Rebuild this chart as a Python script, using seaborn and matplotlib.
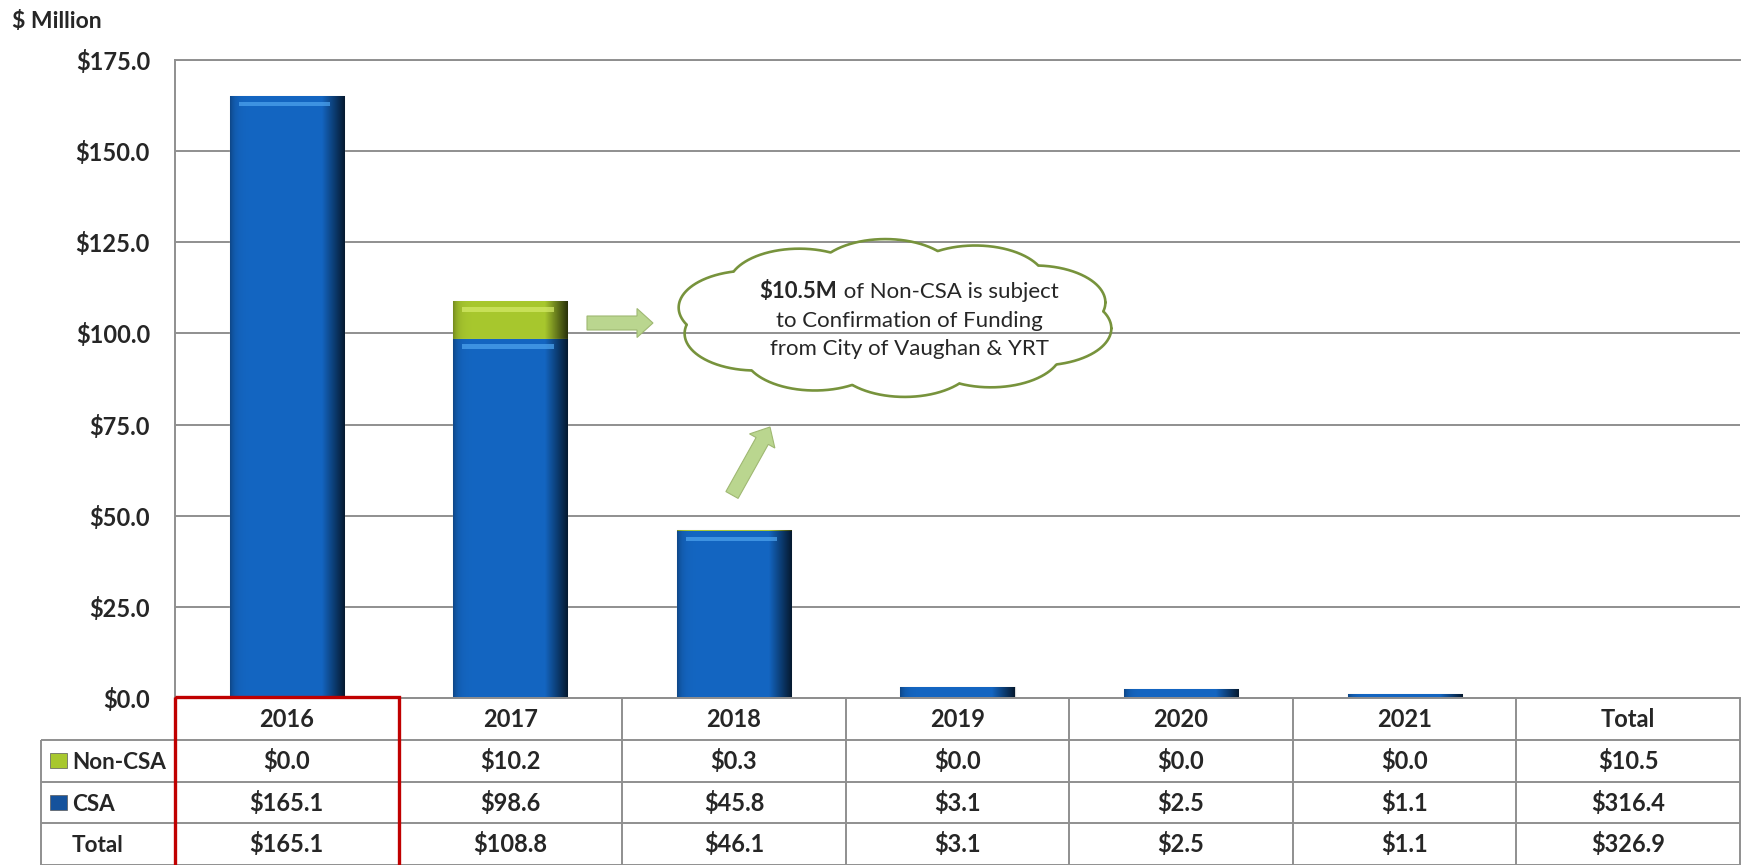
import numpy as np
import pandas as pd
import matplotlib
matplotlib.use("Agg")
import matplotlib.pyplot as plt
import seaborn as sns
from matplotlib.colors import to_rgb
from matplotlib.patches import Rectangle, FancyArrow

# values ($ million)
years = ["2016", "2017", "2018", "2019", "2020", "2021"]
csa = [165.1, 98.6, 45.8, 3.1, 2.5, 1.1]
non_csa = [0.0, 10.2, 0.3, 0.0, 0.0, 0.0]
year_total = [165.1, 108.8, 46.1, 3.1, 2.5, 1.1]
grand_total = {"Non-CSA": 10.5, "CSA": 316.4, "Total": 326.9}
y_ticks = [0, 25, 50, 75, 100, 125, 150, 175]
table_cols = years + ["Total"]
row_names = ["Non-CSA", "CSA", "Total"]
note_bold = "$10.5M"
note_lines = [" of Non-CSA is subject", "to Confirmation of Funding",
              "from City of Vaughan & YRT"]

df = pd.DataFrame({"year": years, "CSA": csa, "Non-CSA": non_csa,
                   "Total": year_total})

W, H = 1744, 865
BLUE = "#1466c2"
GREEN = "#a8c82e"
GRID = "#8f8f8f"
CLOUD = "#77933c"

sns.set_style("white")
plt.rcParams["font.family"] = ["Lato", "DejaVu Sans"]

fig = plt.figure(figsize=(W / 100, H / 100), dpi=100)


def box(x0, y0, x1, y1):
    # pixel box measured from the top-left -> figure fraction
    return [x0 / W, 1 - y1 / H, (x1 - x0) / W, (y1 - y0) / H]


def shade(color, n=160):
    # horizontal "glass" profile: dark left rim, flat body, dark right side
    t = np.linspace(0, 1, n)
    f = 1 - 0.3 * np.exp(-t / 0.04)
    f = np.where(t > 0.8, f * (1 - (t - 0.8) / 0.2 * 0.75), f)
    return np.clip(np.array(to_rgb(color))[None, None, :] * f[None, :, None], 0, 1)


# ---- bars ----
ax = fig.add_axes(box(175, 60, 1740, 698))
sns.barplot(data=df, x="year", y="Total", order=years, color=GREEN,
            saturation=1, width=0.51, errorbar=None, edgecolor="#d9d9d9",
            linewidth=0.8, ax=ax)
n_green = len(ax.patches)
sns.barplot(data=df, x="year", y="CSA", order=years, color=BLUE,
            saturation=1, width=0.51, errorbar=None, edgecolor="#d9d9d9",
            linewidth=0.8, ax=ax)

for i, p in enumerate(ax.patches):
    is_blue = i >= n_green
    z = 1.2 if is_blue else 1.0
    p.set_zorder(z)
    x0, y0, w, h = p.get_x(), p.get_y(), p.get_width(), p.get_height()
    if h <= 0:
        continue
    im = ax.imshow(shade(BLUE if is_blue else GREEN),
                   extent=[x0, x0 + w, y0, y0 + h], aspect="auto",
                   interpolation="bilinear", zorder=z + 0.05)
    im.set_clip_path(p)
    if h > 6:
        light = "#4fa6f0" if is_blue else "#d6ec6a"
        ax.add_patch(Rectangle((x0 + 0.08 * w, y0 + h - 2.8), 0.8 * w, 1.2,
                               color=light, lw=0, alpha=0.7, zorder=z + 0.08))

ax.set_xlim(-0.5, 6.5)
ax.set_ylim(0, 175)
ax.set_xticks([])
ax.set_xlabel("")
ax.set_ylabel("")
ax.set_yticks(y_ticks)
ax.set_yticklabels([f"${v:.1f}" for v in y_ticks], fontsize=17,
                   fontweight="bold")
ax.tick_params(axis="y", length=0, pad=18)
ax.yaxis.grid(True, color=GRID, lw=1.4)
ax.set_axisbelow(True)
for s in ["left", "bottom", "top"]:
    ax.spines[s].set_color(GRID)
    ax.spines[s].set_linewidth(1.4)
ax.spines["right"].set_visible(False)

# ---- data table ----
tax = fig.add_axes(box(41, 698, 1740, 865))
col_w = (1740 - 175) / 7
left = -0.5 - (175 - 41) / col_w
tax.set_xlim(left, 6.5)
tax.set_ylim(4, 0)
tax.axis("off")
lkw = dict(color=GRID, lw=1.4, clip_on=False)
tax.hlines([1, 2, 3, 4], left, 6.5, **lkw)
tax.hlines(0, -0.5, 6.5, **lkw)
tax.vlines(np.arange(-0.5, 7), 0, 4, **lkw)
tax.vlines(left, 1, 4, **lkw)

tkw = dict(ha="center", va="baseline", fontsize=17, fontweight="bold")
for j, c in enumerate(table_cols):
    tax.text(j, 0.7, c, **tkw)
rows = {"Non-CSA": non_csa + [grand_total["Non-CSA"]],
        "CSA": csa + [grand_total["CSA"]],
        "Total": year_total + [grand_total["Total"]]}
for r, name in enumerate(row_names, start=1):
    for j, v in enumerate(rows[name]):
        tax.text(j, r + 0.7, f"${v:.1f}", **tkw)
    tax.text(left + 31 / col_w, r + 0.7, name, ha="left", va="baseline",
             fontsize=16.2, fontweight="bold")

key_w = 17 / col_w
for r, color in [(1, GREEN), (2, "#15529c")]:
    tax.add_patch(Rectangle((left + 9 / col_w, r + 0.32), key_w, 0.36,
                            fc=color, ec="#5a5a5a", lw=0.5, clip_on=False))

tax.add_patch(Rectangle((-0.5, -0.03), 1, 4.3, fill=False, ec="#c00000",
                        lw=2.4, clip_on=False, zorder=10))

# ---- overlay in pixel units: title, arrows, cloud ----
ov = fig.add_axes([0, 0, 1, 1])
ov.set_xlim(0, W)
ov.set_ylim(H, 0)
ov.axis("off")

ov.text(12, 21, "$ Million", fontsize=16.5, fontweight="bold", va="center")

akw = dict(width=14, head_width=29, head_length=16, length_includes_head=True,
           fc="#bad68f", ec="#9fb872", lw=0.8)
ov.add_patch(FancyArrow(587, 323, 66, 0, **akw))
ov.add_patch(FancyArrow(732, 495, 38, -68, **akw))

# cloud: union outline of bumps placed around an ellipse
cx, cy, a, b = 895, 318, 150, 42
bw, bh = 71, 37
ts = np.linspace(0, 2 * np.pi, 10, endpoint=False) + 0.25
centers = [(cx + a * np.cos(t), cy + b * np.sin(t)) for t in ts]
th = np.linspace(0, 2 * np.pi, 600)
for i, (x0, y0) in enumerate(centers):
    xs = x0 + bw * np.cos(th)
    ys = y0 + bh * np.sin(th)
    hide = ((xs - cx) / a) ** 2 + ((ys - cy) / b) ** 2 < 1
    for k, (x1, y1) in enumerate(centers):
        if k != i:
            hide |= ((xs - x1) / bw) ** 2 + ((ys - y1) / bh) ** 2 < 1
    ov.plot(np.where(hide, np.nan, xs), np.where(hide, np.nan, ys),
            color=CLOUD, lw=1.9, solid_capstyle="round")

fs = 16
tx = 909
t1 = ov.text(0, 298, note_bold, fontsize=fs, fontweight="bold", va="baseline")
t2 = ov.text(0, 298, note_lines[0], fontsize=fs, va="baseline")
rend = fig.canvas.get_renderer()
w1 = t1.get_window_extent(rend).width
w2 = t2.get_window_extent(rend).width
t1.set_x(tx - (w1 + w2) / 2)
t2.set_x(tx - (w1 + w2) / 2 + w1)
ov.text(tx, 327, note_lines[1], fontsize=fs, ha="center", va="baseline")
ov.text(tx, 355, note_lines[2], fontsize=fs, ha="center", va="baseline")

fig.savefig("out.png", dpi=100)
